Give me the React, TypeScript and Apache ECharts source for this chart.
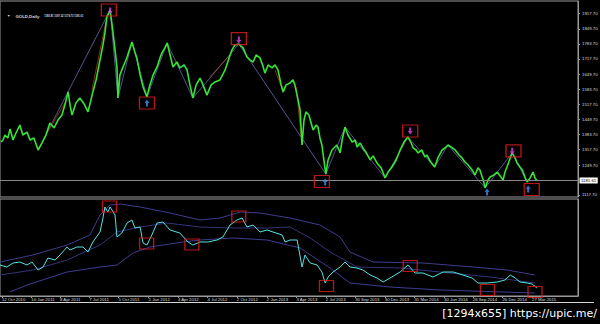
import React, { useEffect, useRef } from 'react';
import * as echarts from 'echarts';

// ---------- axis ticks ----------
const priceTicks = [1117.7, 1249.7, 1317.7, 1383.7, 1449.7, 1517.7, 1583.7, 1649.7, 1717.7, 1783.7, 1849.7, 1917.7];
const dateTicks = ['2010-10-12', '2011-01-10', '2011-04-08', '2011-07-07', '2011-10-05', '2012-01-05', '2012-04-04', '2012-07-04', '2012-10-02', '2013-01-02', '2013-04-03', '2013-07-02', '2013-09-30', '2013-12-30', '2014-03-31', '2014-06-30', '2014-09-26', '2014-12-26', '2015-03-27'];
const monthNames = ['Jan', 'Feb', 'Mar', 'Apr', 'May', 'Jun', 'Jul', 'Aug', 'Sep', 'Oct', 'Nov', 'Dec'];
const axisStart = '2010-10-06';
const axisEnd = '2015-08-15';
const lastPrice = 1181.61;
const titleSymbol = 'GOLD,Daily';
const titleQuotes = '1185.81 1187.32 1179.73 1181.61';

// ---------- GOLD daily price (sampled) ----------
const priceDates = ['2010-10-09','2010-10-15','2010-10-21','2010-10-30','2010-11-06','2010-11-15','2010-11-24','2010-12-06','2010-12-15','2010-12-28',
'2011-01-06','2011-01-18','2011-01-31','2011-02-12','2011-02-24','2011-03-08','2011-03-21','2011-04-02','2011-04-14','2011-04-23',
'2011-05-03','2011-05-09','2011-05-15','2011-05-27','2011-06-08','2011-06-21','2011-07-03','2011-07-12','2011-07-18','2011-07-28',
'2011-08-09','2011-08-18','2011-08-24','2011-08-30','2011-09-09','2011-09-15','2011-09-18','2011-09-24','2011-09-30','2011-10-03',
'2011-10-09','2011-10-15','2011-10-25','2011-10-31','2011-11-09','2011-11-15','2011-11-24','2011-11-30','2011-12-10','2011-12-19',
'2011-12-31','2012-01-09','2012-01-19','2012-01-31','2012-02-09','2012-02-15','2012-02-24','2012-03-02','2012-03-11','2012-03-20',
'2012-04-01','2012-04-10','2012-04-23','2012-05-02','2012-05-11','2012-05-20','2012-05-30','2012-06-11','2012-06-20','2012-07-02',
'2012-07-15','2012-07-27','2012-08-11','2012-08-27','2012-09-08','2012-09-17','2012-09-26','2012-10-08','2012-10-21','2012-11-02',
'2012-11-11','2012-11-21','2012-11-30','2012-12-12','2012-12-21','2012-12-27','2013-01-06','2013-01-18','2013-01-27','2013-02-05',
'2013-02-15','2013-02-21','2013-03-02','2013-03-14','2013-03-23','2013-03-29','2013-04-08','2013-04-14','2013-04-20','2013-04-26',
'2013-05-02','2013-05-11','2013-05-24','2013-06-02','2013-06-08','2013-06-14','2013-06-20','2013-06-26','2013-07-02','2013-07-09',
'2013-07-15','2013-07-21','2013-07-30','2013-08-05','2013-08-15','2013-08-21','2013-08-30','2013-09-08','2013-09-21','2013-09-30',
'2013-10-06','2013-10-15','2013-10-24','2013-11-02','2013-11-15','2013-11-24','2013-12-06','2013-12-19','2013-12-31','2014-01-09',
'2014-01-21','2014-02-03','2014-02-15','2014-02-27','2014-03-11','2014-03-21','2014-03-27','2014-04-05','2014-04-11','2014-04-23',
'2014-05-02','2014-05-08','2014-05-20','2014-06-01','2014-06-11','2014-06-24','2014-07-03','2014-07-12','2014-07-25','2014-08-03',
'2014-08-15','2014-08-24','2014-09-02','2014-09-12','2014-09-24','2014-10-03','2014-10-12','2014-10-18','2014-10-28','2014-11-03',
'2014-11-12','2014-11-18','2014-11-30','2014-12-10','2014-12-19','2014-12-28','2015-01-03','2015-01-09','2015-01-19','2015-01-25',
'2015-02-03','2015-02-09','2015-02-18','2015-02-25','2015-03-06','2015-03-12','2015-03-21','2015-03-30','2015-04-05','2015-04-11'];
const priceValues = [1351,1360,1382,1369,1409,1360,1391,1426,1382,1395,
1360,1369,1316,1347,1382,1435,1413,1448,1470,1514,
1572,1514,1470,1523,1545,1519,1484,1536,1572,1625,
1713,1779,1832,1902,1933,1867,1832,1757,1682,1545,
1647,1669,1704,1726,1766,1792,1748,1722,1647,1594,
1550,1603,1647,1682,1722,1744,1766,1788,1735,1682,
1704,1678,1691,1669,1603,1545,1603,1633,1603,1558,
1603,1616,1625,1669,1722,1757,1779,1783,1766,1726,
1713,1704,1735,1722,1686,1655,1691,1678,1691,1669,
1603,1572,1603,1611,1625,1603,1536,1492,1338,1448,
1484,1470,1404,1426,1417,1369,1338,1272,1210,1272,
1294,1316,1329,1338,1303,1360,1417,1382,1351,1360,
1329,1347,1325,1307,1272,1290,1259,1237,1193,1219,
1241,1272,1316,1351,1373,1347,1325,1316,1303,1316,
1285,1294,1263,1241,1281,1316,1325,1338,1325,1316,
1294,1281,1263,1250,1228,1206,1237,1228,1184,1149,
1184,1197,1206,1219,1201,1184,1219,1241,1281,1303,
1281,1259,1241,1228,1193,1175,1193,1219,1193,1181.61];

// ---------- ZigZag swings ----------
const zigDates = ['2011-01-31','2011-09-09','2011-10-03','2011-11-15','2011-12-31','2012-03-02','2012-05-20','2012-10-08','2013-07-02','2013-08-30','2013-12-31','2014-03-11','2014-06-01','2014-07-12','2014-11-03','2015-01-25','2015-03-12'];
const zigValues = [1316,1933,1545,1792,1550,1788,1545,1783,1210,1417,1193,1373,1241,1338,1149,1303,1175];
const minorZigDates = ['2011-02-15','2011-04-23','2011-05-01','2011-07-15','2011-08-27','2011-09-01','2012-07-11','2012-09-05','2012-10-01','2013-01-27','2013-02-21','2013-03-01','2013-04-02','2013-04-20'];
const minorZigValues = [1360,1523,null,1580,1880,null,1638,1726,null,1669,1572,null,1594,1338];

// ---------- signals ----------
const mainBoxDates = ['2011-09-05','2011-12-31','2012-10-08','2013-06-20','2014-03-18','2015-01-29','2015-03-26'];
const mainBoxPrices = [1933,1523,1807,1177,1400,1312,1142];
const sellArrowDates = ['2011-09-09','2012-10-08','2014-03-18','2015-01-25'];
const sellArrowPrices = [1929,1801,1400,1311];
const buyArrowDates = ['2011-12-31','2013-06-30','2014-11-09','2015-03-15'];
const buyArrowPrices = [1523,1175,1131,1144];

// ---------- indicator panel ----------
const oscDates = ['2010-10-06','2010-10-27','2010-11-15','2010-12-06','2010-12-28','2011-01-12','2011-01-31','2011-02-15','2011-03-02','2011-03-24',
'2011-04-08','2011-04-30','2011-05-09','2011-05-30','2011-06-18','2011-07-03','2011-07-18','2011-08-09','2011-08-18','2011-08-24',
'2011-09-02','2011-09-09','2011-09-24','2011-09-30','2011-10-15','2011-10-31','2011-11-15','2011-11-24','2011-12-10','2011-12-19',
'2011-12-31','2012-01-15','2012-01-31','2012-02-18','2012-03-11','2012-04-10','2012-05-05','2012-05-20','2012-06-11','2012-07-05',
'2012-08-02','2012-08-20','2012-09-11','2012-10-02','2012-10-18','2012-11-02','2012-11-21','2012-12-12','2013-01-03','2013-01-21',
'2013-02-18','2013-02-27','2013-03-14','2013-04-05','2013-04-20','2013-04-29','2013-05-15','2013-06-05','2013-06-20','2013-06-30',
'2013-07-09','2013-07-24','2013-08-15','2013-08-30','2013-09-14','2013-10-06','2013-10-24','2013-11-15','2013-12-06','2013-12-25',
'2014-01-15','2014-02-15','2014-03-11','2014-04-02','2014-04-26','2014-05-27','2014-06-27','2014-07-28','2014-08-27','2014-09-24',
'2014-10-12','2014-11-09','2014-12-10','2015-01-03','2015-01-19','2015-02-03','2015-02-18','2015-03-12','2015-03-27','2015-04-11'];
const oscValues = [31,29,33,34,31,34,26,29,38,36,
41,49,46,49,49,44,54,64,78,89,
84,89,81,59,63,73,76,68,69,53,
51,61,73,74,66,63,54,51,54,54,
56,59,71,76,78,69,71,64,66,64,
61,54,56,56,29,41,33,31,24,13,
19,24,29,34,29,28,26,21,18,14,
18,24,31,23,23,19,24,24,21,18,
13,13,14,16,21,18,14,13,12,8];
const upperDates = ['2010-10-06','2011-01-15','2011-04-30','2011-07-09','2011-08-09','2011-09-09','2011-10-09','2011-12-10','2012-03-11','2012-06-11','2012-08-11','2012-10-12','2012-12-12','2013-03-14','2013-06-14','2013-08-15','2013-09-14','2013-11-24','2014-04-26','2014-09-27','2015-01-09','2015-04-05'];
const upperValues = [34,41,51,61,81,91,92,89,83,76,78,84,83,78,71,59,44,34,33,29,26,21];
const middleDates = ['2010-10-06','2011-01-15','2011-04-30','2011-08-09','2011-09-30','2011-12-10','2012-03-02','2012-06-11','2012-09-20','2013-01-03','2013-03-14','2013-05-15','2013-07-15','2013-10-06','2014-02-15','2014-06-18','2014-11-18','2015-04-05'];
const middleValues = [21,26,36,51,64,69,73,69,68,68,69,58,44,29,28,24,19,13];
const lowerDates = ['2010-11-05','2010-12-28','2011-04-30','2011-08-09','2011-09-30','2011-11-18','2012-01-09','2012-04-20','2012-06-11','2012-09-20','2013-01-03','2013-04-14','2013-07-15','2013-09-14','2014-01-15','2014-06-18','2015-04-05'];
const lowerValues = [4,11,24,29,31,43,49,54,56,58,56,48,28,13,9,6,3];
const subBoxDates = ['2011-09-07','2011-12-30','2012-05-17','2012-10-08','2013-07-04','2014-03-18','2014-11-10','2015-04-05'];
const subBoxValues = [89.5,52.5,51.5,79.5,10,30,6,4];

const toTime = (s: string) => {
  const [y, m, d] = s.split('-').map(Number);
  return new Date(y, m - 1, d).getTime();
};
const zipData = (dates: string[], vals: (number | null)[]) =>
  dates.map((d, i) => [toTime(d), vals[i] == null ? '-' : vals[i]]);

const ARROW = 'path://M5,0L10,5L7,5L7,10L3,10L3,5L0,5Z';
const AXIS_COLOR = '#9a9a9a';
const TEXT_COLOR = '#dcdcdc';
const FONT = 'Liberation Sans';

const fmtDate = (v: number) => {
  const d = new Date(v);
  return `${d.getDate()} ${monthNames[d.getMonth()]} ${d.getFullYear()}`;
};

export default function App() {
  const ref = useRef<HTMLDivElement>(null);
  useEffect(() => {
    const chart = echarts.init(ref.current!, null, { renderer: 'svg', width: 600, height: 324 });
    const gridBase = { left: 0, width: 578, show: true, borderColor: AXIS_COLOR, borderWidth: 1, backgroundColor: '#000', containLabel: false, outerBoundsMode: 'none' };
    const xMin = toTime(axisStart);
    const xMax = toTime(axisEnd);
    const dateTickValues = dateTicks.map(toTime);
    const option: any = {
      animation: false,
      backgroundColor: '#000',
      title: {
        left: 2, top: 2,
        text: `{i|▼} {a|${titleSymbol}} {b|${titleQuotes}}`,
        textStyle: {
          rich: {
            i: { color: TEXT_COLOR, fontSize: 3.5, fontFamily: FONT },
            a: { color: TEXT_COLOR, fontSize: 4.3, fontFamily: FONT },
            b: { color: TEXT_COLOR, fontSize: 2.6, fontFamily: FONT },
          },
        },
      },
      grid: [
        { ...gridBase, top: 1, height: 196 },
        { ...gridBase, top: 199, height: 97 },
      ],
      xAxis: [
        {
          gridIndex: 0, type: 'value', min: xMin, max: xMax,
          axisLine: { show: false }, axisTick: { show: false }, axisLabel: { show: false }, splitLine: { show: false },
        },
        {
          gridIndex: 1, type: 'value', min: xMin, max: xMax,
          axisLine: { show: true, onZero: false, lineStyle: { color: AXIS_COLOR, width: 1 } },
          axisTick: { show: true, customValues: dateTickValues, length: 2, lineStyle: { color: AXIS_COLOR } },
          axisLabel: {
            customValues: dateTickValues, formatter: (v: number) => fmtDate(v), color: TEXT_COLOR,
            fontSize: 4.3, fontFamily: FONT, align: 'left', margin: 1.5, hideOverlap: false,
            showMinLabel: true, showMaxLabel: true,
          },
          splitLine: { show: false },
        },
      ],
      yAxis: [
        {
          gridIndex: 0, type: 'value', position: 'right', min: 1108.8, max: 1972.8,
          axisLine: { show: true, lineStyle: { color: AXIS_COLOR } },
          axisTick: { show: true, customValues: priceTicks, length: 2, lineStyle: { color: AXIS_COLOR } },
          axisLabel: {
            customValues: priceTicks, formatter: (v: number) => v.toFixed(2), color: TEXT_COLOR,
            fontSize: 4.3, fontFamily: FONT, margin: 4, hideOverlap: false, showMinLabel: true, showMaxLabel: true,
          },
          splitLine: { show: false },
        },
        {
          gridIndex: 1, type: 'value', position: 'right', min: 0, max: 97,
          axisLine: { show: true, lineStyle: { color: AXIS_COLOR } },
          axisTick: { show: false }, axisLabel: { show: false }, splitLine: { show: false },
        },
      ],
      series: [
        {
          name: 'ZigZag', type: 'line', xAxisIndex: 0, yAxisIndex: 0, data: zipData(zigDates, zigValues),
          symbol: 'none', lineStyle: { color: '#6a6ab0', width: 0.8 }, z: 2, silent: true,
        },
        {
          name: 'ZigZag minor', type: 'line', xAxisIndex: 0, yAxisIndex: 0, data: zipData(minorZigDates, minorZigValues),
          symbol: 'none', connectNulls: false, lineStyle: { color: '#a8361c', width: 0.8 }, z: 2, silent: true,
        },
        {
          name: 'GOLD', type: 'line', xAxisIndex: 0, yAxisIndex: 0, data: zipData(priceDates, priceValues),
          symbol: 'none', lineStyle: { color: '#36e436', width: 1.6 }, z: 3, silent: true,
          markLine: {
            silent: true, symbol: ['none', 'none'],
            lineStyle: { color: '#8a8a8a', width: 1, type: 'solid' },
            label: {
              show: true, position: 'end', formatter: lastPrice.toFixed(2), color: '#000', backgroundColor: '#ffffff',
              fontSize: 4.3, fontFamily: FONT, padding: [1, 1.5], distance: 1.5,
            },
            data: [{ yAxis: lastPrice }],
          },
        },
        {
          name: 'Signal boxes', type: 'scatter', xAxisIndex: 0, yAxisIndex: 0, data: zipData(mainBoxDates, mainBoxPrices),
          symbol: 'rect', symbolSize: [15, 12], itemStyle: { color: 'rgba(0,0,0,0)', borderColor: '#e51c1c', borderWidth: 1.2 }, z: 5, silent: true,
        },
        {
          name: 'Sell', type: 'scatter', xAxisIndex: 0, yAxisIndex: 0, data: zipData(sellArrowDates, sellArrowPrices),
          symbol: ARROW, symbolRotate: 180, symbolSize: [5, 7], itemStyle: { color: '#e244e2' }, z: 6, silent: true,
        },
        {
          name: 'Buy', type: 'scatter', xAxisIndex: 0, yAxisIndex: 0, data: zipData(buyArrowDates, buyArrowPrices),
          symbol: ARROW, symbolSize: [5, 7], itemStyle: { color: '#3f8fea' }, z: 6, silent: true,
        },
        {
          name: 'Upper', type: 'line', xAxisIndex: 1, yAxisIndex: 1, data: zipData(upperDates, upperValues),
          symbol: 'none', lineStyle: { color: '#3d3d8e', width: 1 }, silent: true,
        },
        {
          name: 'Middle', type: 'line', xAxisIndex: 1, yAxisIndex: 1, data: zipData(middleDates, middleValues),
          symbol: 'none', lineStyle: { color: '#34347c', width: 1 }, silent: true,
        },
        {
          name: 'Lower', type: 'line', xAxisIndex: 1, yAxisIndex: 1, data: zipData(lowerDates, lowerValues),
          symbol: 'none', lineStyle: { color: '#3d3d8e', width: 1 }, silent: true,
        },
        {
          name: 'Oscillator', type: 'line', xAxisIndex: 1, yAxisIndex: 1, data: zipData(oscDates, oscValues),
          symbol: 'none', lineStyle: { color: '#52e4e4', width: 1 }, z: 3, silent: true,
        },
        {
          name: 'Sub boxes', type: 'scatter', xAxisIndex: 1, yAxisIndex: 1, data: zipData(subBoxDates, subBoxValues),
          symbol: 'rect', symbolSize: [14, 11], itemStyle: { color: 'rgba(0,0,0,0)', borderColor: '#e51c1c', borderWidth: 1.2 }, z: 5, silent: true,
        },
      ],
      graphic: [
        { type: 'line', shape: { x1: 0, y1: 302.5, x2: 594, y2: 302.5 }, style: { stroke: '#d8d8d8', lineWidth: 1 }, silent: true },
        {
          type: 'text', x: 597, y: 313,
          style: { text: '[1294x655] https://upic.me/', fill: '#ffffff', font: '11px "DejaVu Sans"', align: 'right', verticalAlign: 'middle' },
          silent: true,
        },
      ],
    };
    chart.setOption(option);
    return () => chart.dispose();
  }, []);
  return <div ref={ref} style={{ position: 'absolute', left: 0, top: 0, width: 600, height: 324, background: '#000' }} />;
}
